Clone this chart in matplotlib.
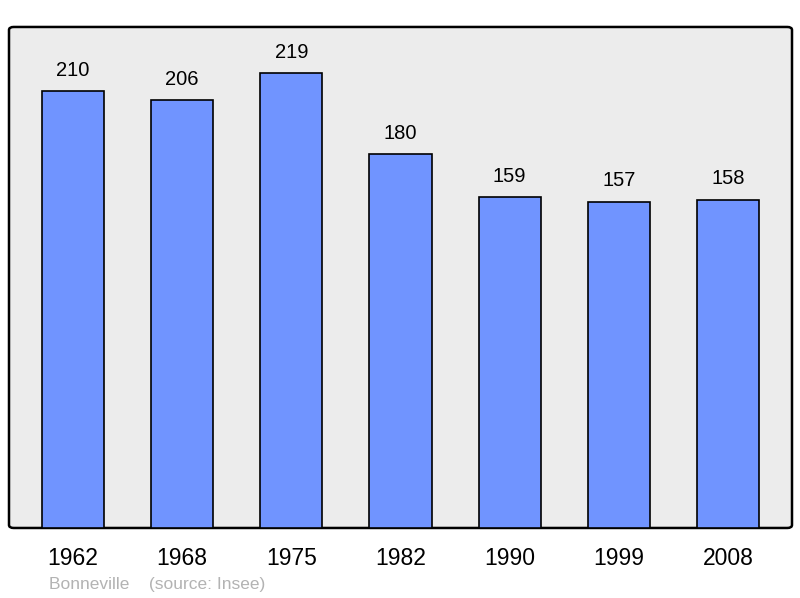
"""Population chart for Bonneville (source: Insee)."""

import matplotlib
matplotlib.use("Agg")
import matplotlib.pyplot as plt
from matplotlib.patches import FancyBboxPatch

years = ["1962", "1968", "1975", "1982", "1990", "1999", "2008"]
population = [210, 206, 219, 180, 159, 157, 158]

BAR_COLOR = "#7094ff"
BG_COLOR = "#ececec"

plt.rcParams["font.family"] = ["Liberation Sans", "DejaVu Sans"]

fig = plt.figure(figsize=(8, 5.98), dpi=100)
ax = fig.add_axes([0.01125, 0.1171, 0.97875, 0.8378])
ax.set_facecolor("none")

# rounded frame behind the bars
frame = FancyBboxPatch((0, 0), 1, 1, boxstyle="round,pad=0,rounding_size=0.006",
                       transform=ax.transAxes, facecolor=BG_COLOR,
                       edgecolor="black", linewidth=1.8, zorder=0, clip_on=False)
ax.add_patch(frame)

x = range(len(years))
ax.bar(x, population, width=0.57, color=BAR_COLOR, edgecolor="black",
       linewidth=1.2, zorder=2)
for i, v in zip(x, population):
    ax.annotate(str(v), (i, v), xytext=(0, 8), textcoords="offset points",
                ha="center", va="bottom", fontsize=14.5)

ax.set_xlim(-0.585, len(years) - 1 + 0.585)
ax.set_ylim(0, 241)
ax.set_xticks(list(x))
ax.set_xticklabels(years, fontsize=16.5)
ax.tick_params(axis="x", length=0, pad=14)
ax.set_yticks([])
for s in ax.spines.values():
    s.set_visible(False)

fig.text(49 / 800, 1 - 584 / 598, "Bonneville    (source: Insee)",
         fontsize=12.5, color="#b3b3b3", ha="left", va="center")

fig.savefig("out.png", dpi=100)
